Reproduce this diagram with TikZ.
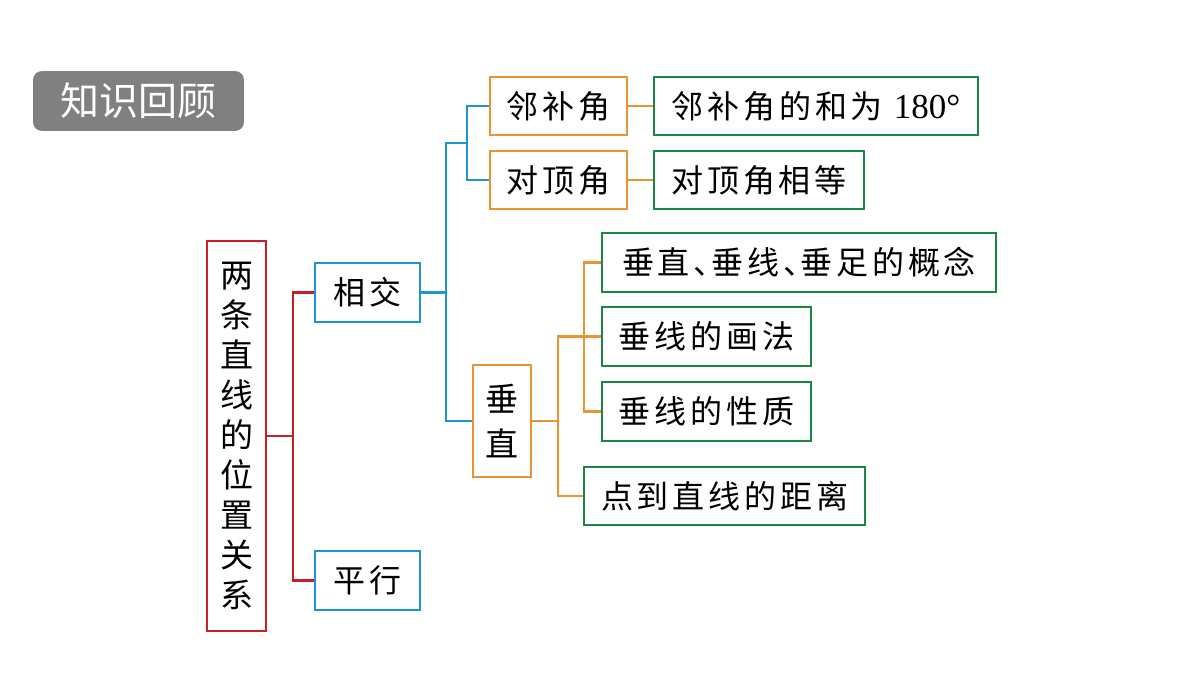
\documentclass[tikz,border=0pt]{standalone}
\usepackage{fontspec}
\setmainfont{Liberation Serif}
\newfontfamily\cjk[LetterSpace=12]{Noto Sans CJK SC}
\newfontfamily\cjkplain{Noto Sans CJK SC}
\usepackage{xcolor}
\usetikzlibrary{calc}
\definecolor{treered}{RGB}{200,30,40}
\definecolor{treeblue}{RGB}{30,150,205}
\definecolor{treeorange}{RGB}{232,148,50}
\definecolor{treegreen}{RGB}{25,135,65}
\definecolor{titlegray}{RGB}{128,128,128}
\newcommand{\dunhao}{、\kern-0.45em}

\begin{document}
\begin{tikzpicture}[x=0.02cm,y=-0.02cm,
  box/.style={draw,line width=1.2pt,fill=white,inner sep=0pt,align=center,
    font=\cjk\fontsize{0.64cm}{0.8cm}\selectfont},
  vbox/.style={box,font=\cjkplain\fontsize{0.66cm}{0.8cm}\selectfont},
  redbox/.style={vbox,draw=treered,minimum width=1.18cm,minimum height=7.8cm},
  bluebox/.style={box,draw=treeblue,minimum width=2.1cm,minimum height=1.18cm},
  orangebox/.style={box,draw=treeorange,minimum height=1.16cm},
  greenbox/.style={box,draw=treegreen,minimum height=1.17cm},
  redl/.style={draw=treered,line width=1.2pt},
  bluel/.style={draw=treeblue,line width=1.2pt},
  orangel/.style={draw=treeorange,line width=1.2pt}]
\useasboundingbox (0,0) rectangle (1200,675);
\node[fill=titlegray,rounded corners=0.18cm,minimum width=4.22cm,minimum height=1.2cm,
  text=white,font=\cjkplain\fontsize{0.78cm}{0.9cm}\selectfont] (title) at (138.5,101) {知识回顾};
\node[redbox] (main) at (236.5,436) {两\\条\\直\\线\\的\\位\\置\\关\\系};
\node[bluebox] (xj) at (367.5,292.5) {相交};
\node[bluebox] (px) at (367.5,580.5) {平行};
\node[orangebox,minimum width=2.74cm] (lb) at (558.5,106) {邻补角};
\node[orangebox,minimum width=2.74cm] (dd) at (558.5,180) {对顶角};
\node[greenbox,minimum width=6.48cm] (lbt) at (816,106) {邻补角的和为 {\rmfamily\fontsize{0.7cm}{0.8cm}\selectfont 180°}};
\node[greenbox,minimum width=4.2cm] (ddt) at (759,180) {对顶角相等};
\node[vbox,draw=treeorange,minimum width=1.16cm,minimum height=2.24cm,
  font=\cjkplain\fontsize{0.66cm}{0.9cm}\selectfont] (cz) at (502,421) {垂\\直};
\node[greenbox,minimum width=7.88cm] (gn) at (799,262.5) {垂直\dunhao 垂线\dunhao 垂足的概念};
\node[greenbox,minimum width=4.18cm] (hf) at (706.5,336.5) {垂线的画法};
\node[greenbox,minimum width=4.18cm] (xz) at (706.5,411.5) {垂线的性质};
\node[greenbox,minimum width=5.62cm] (jl) at (724.5,496) {点到直线的距离};
\coordinate (b2) at ($(lb.west)!0.5!(dd.west)+(-22,0)$);
\coordinate (o2) at ($(hf.west)+(-17,0)$);
\draw[redl] (main.east) -- ++(26,0) coordinate (r1) |- (xj.west);
\draw[redl] (r1) |- (px.west);
\draw[bluel] (xj.east) -- ++(25,0) coordinate (b1) |- (b2);
\draw[bluel] (b1) |- (cz.west);
\draw[bluel] (lb.west) -| (b2) |- (dd.west);
\draw[orangel] (lb.east) -- (lbt.west);
\draw[orangel] (dd.east) -- (ddt.west);
\draw[orangel] (cz.east) -- ++(26,0) coordinate (o1) |- (hf.west);
\draw[orangel] (o1) |- (jl.west);
\draw[orangel] (gn.west) -| (o2) |- (xz.west);
\end{tikzpicture}
\end{document}
